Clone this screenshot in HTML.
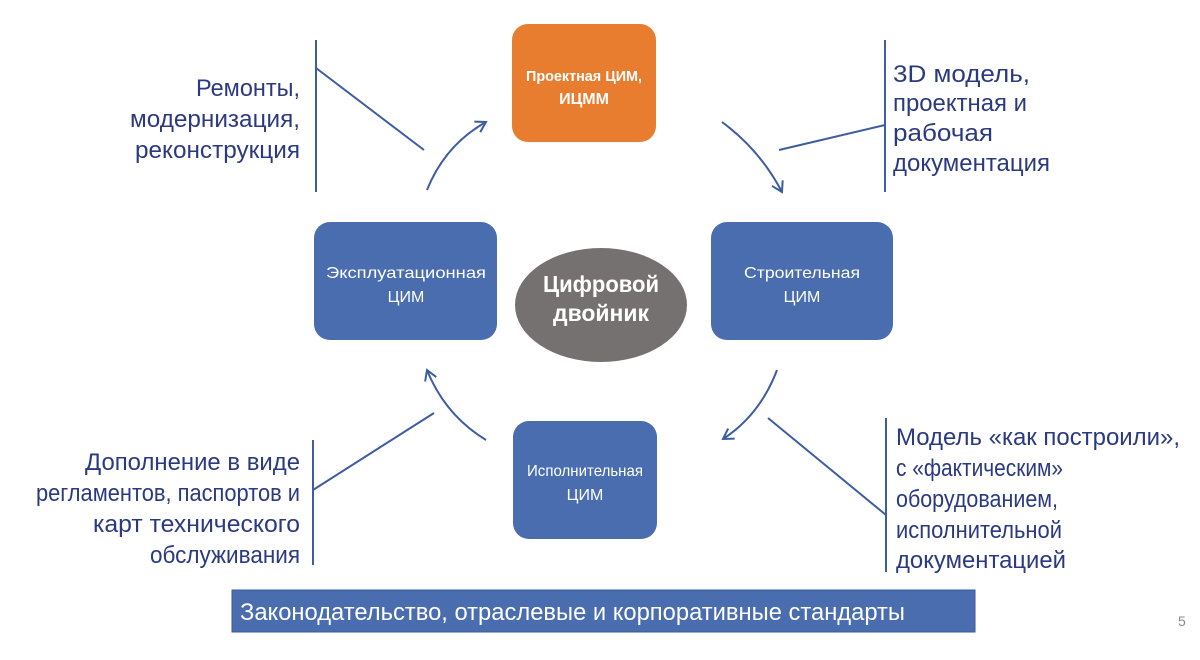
<!DOCTYPE html>
<html><head><meta charset="utf-8"><style>
html,body{margin:0;padding:0;background:#fff;}
svg{display:block;font-family:"Liberation Sans",sans-serif;}
</style></head><body>
<svg width="1200" height="660" viewBox="0 0 1200 660" xmlns="http://www.w3.org/2000/svg">
<defs>
<marker id="ah" markerWidth="14" markerHeight="14" refX="11" refY="7" orient="auto" markerUnits="userSpaceOnUse">
<path d="M1,1 L11,7 L1,13" fill="none" stroke="#3D5DA0" stroke-width="2"/>
</marker>
</defs>
<rect x="512" y="24" width="144" height="118" rx="16" fill="#E97D2F"/>
<rect x="314" y="222" width="183" height="118" rx="16" fill="#4A6DAF"/>
<rect x="711" y="222" width="182" height="118" rx="16" fill="#4A6DAF"/>
<rect x="513" y="421" width="144" height="118" rx="16" fill="#4A6DAF"/>
<ellipse cx="601" cy="305" rx="86" ry="57" fill="#767171"/>
<g fill="#fff" text-anchor="middle">
<text x="584" y="81" font-size="15" font-weight="bold" textLength="116" lengthAdjust="spacingAndGlyphs">Проектная ЦИМ,</text>
<text x="584" y="104" font-size="16" font-weight="bold">ИЦММ</text>
<text x="406" y="278" font-size="16" textLength="160" lengthAdjust="spacingAndGlyphs">Эксплуатационная</text>
<text x="406" y="302" font-size="16">ЦИМ</text>
<text x="802" y="278" font-size="16" textLength="116" lengthAdjust="spacingAndGlyphs">Строительная</text>
<text x="802" y="302" font-size="16">ЦИМ</text>
<text x="585" y="476" font-size="16" textLength="116" lengthAdjust="spacingAndGlyphs">Исполнительная</text>
<text x="585" y="500" font-size="16">ЦИМ</text>
<text x="601" y="292" font-size="23" font-weight="bold" textLength="116" lengthAdjust="spacingAndGlyphs">Цифровой</text>
<text x="601" y="321" font-size="23" font-weight="bold" textLength="96" lengthAdjust="spacingAndGlyphs">двойник</text>
</g>
<g stroke="#3D5DA0" stroke-width="2" fill="none">
<line x1="316" y1="40" x2="316" y2="192"/><line x1="316" y1="68" x2="424" y2="150"/>
<line x1="885" y1="40" x2="885" y2="192"/><line x1="885" y1="125" x2="779" y2="150"/>
<line x1="313" y1="440" x2="313" y2="565"/><line x1="313" y1="490" x2="434" y2="413"/>
<line x1="886" y1="418" x2="886" y2="572"/><line x1="886" y1="515" x2="768" y2="418"/>
<path d="M427,190 Q445,145 486,122" marker-end="url(#ah)"/>
<path d="M722,122 Q760,150 782,192" marker-end="url(#ah)"/>
<path d="M777,370 Q760,415 723,439" marker-end="url(#ah)"/>
<path d="M486,440 Q445,415 427,370" marker-end="url(#ah)"/>
</g>
<g fill="#2B3A80" font-size="24">
<text x="300" y="96" text-anchor="end" textLength="104" lengthAdjust="spacingAndGlyphs">Ремонты,</text>
<text x="300" y="127" text-anchor="end" textLength="170" lengthAdjust="spacingAndGlyphs">модернизация,</text>
<text x="300" y="158" text-anchor="end" textLength="165" lengthAdjust="spacingAndGlyphs">реконструкция</text>
<text x="893" y="82" textLength="137" lengthAdjust="spacingAndGlyphs">3D модель,</text>
<text x="893" y="111" textLength="134" lengthAdjust="spacingAndGlyphs">проектная и</text>
<text x="893" y="141" textLength="100" lengthAdjust="spacingAndGlyphs">рабочая</text>
<text x="893" y="171" textLength="157" lengthAdjust="spacingAndGlyphs">документация</text>
<text x="300" y="470" text-anchor="end" textLength="215" lengthAdjust="spacingAndGlyphs">Дополнение в виде</text>
<text x="300" y="501" text-anchor="end" textLength="264" lengthAdjust="spacingAndGlyphs">регламентов, паспортов и</text>
<text x="300" y="532" text-anchor="end" textLength="207" lengthAdjust="spacingAndGlyphs">карт технического</text>
<text x="300" y="563" text-anchor="end" textLength="150" lengthAdjust="spacingAndGlyphs">обслуживания</text>
<text x="896" y="445" textLength="284" lengthAdjust="spacingAndGlyphs">Модель «как построили»,</text>
<text x="896" y="476" textLength="167" lengthAdjust="spacingAndGlyphs">с «фактическим»</text>
<text x="896" y="507" textLength="162" lengthAdjust="spacingAndGlyphs">оборудованием,</text>
<text x="896" y="538" textLength="166" lengthAdjust="spacingAndGlyphs">исполнительной</text>
<text x="896" y="568" textLength="170" lengthAdjust="spacingAndGlyphs">документацией</text>
</g>
<rect x="232" y="590" width="743" height="42" fill="#4A6DAF" stroke="#3A5A9A" stroke-width="1"/>
<text x="240" y="620" fill="#fff" font-size="24" textLength="665" lengthAdjust="spacingAndGlyphs">Законодательство, отраслевые и корпоративные стандарты</text>
<text x="1178" y="626" fill="#888" font-size="14">5</text>
</svg>
</body></html>
